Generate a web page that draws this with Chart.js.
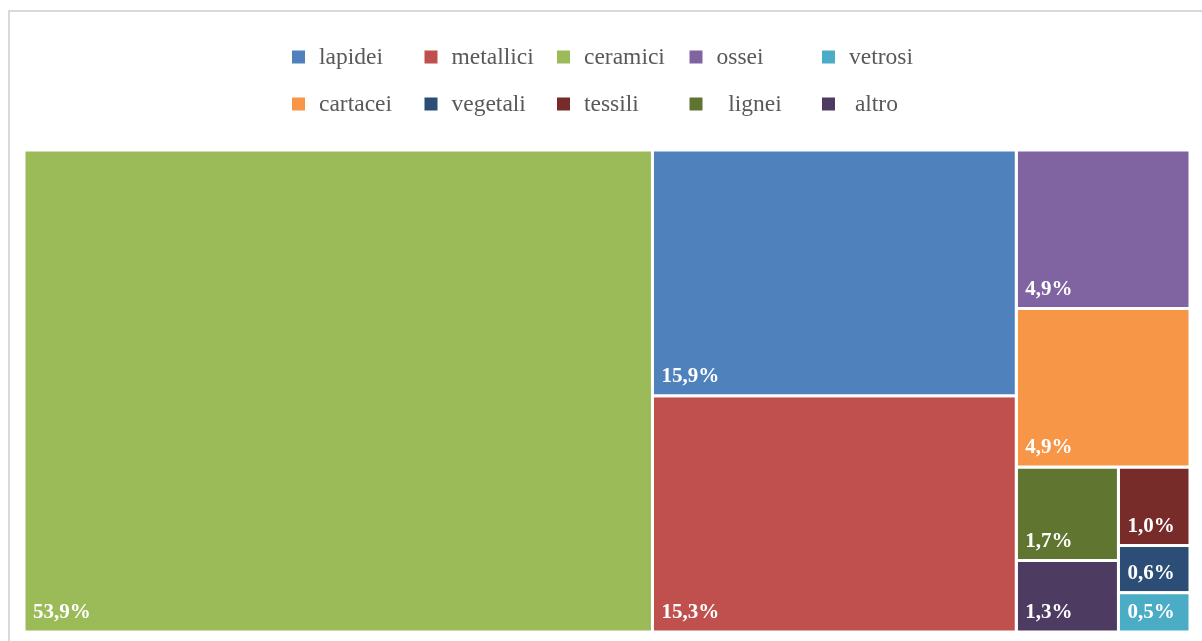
<!DOCTYPE html>
<html><head><meta charset="utf-8">
<script src="https://cdn.jsdelivr.net/npm/chart.js@4.4.1/dist/chart.umd.min.js"></script>
<style>html,body{margin:0;padding:0;background:#fff;overflow:hidden}#wrap{width:1202px;height:641px;position:relative}</style>
</head><body><div id="wrap"><canvas id="c" width="1202" height="641"></canvas></div>
<script>
// ---- data ----
const categories = ['lapidei','metallici','ceramici','ossei','vetrosi','cartacei','vegetali','tessili','lignei','altro'];
const legendLabels = ['lapidei','metallici','ceramici','ossei','vetrosi','cartacei','vegetali','tessili','  lignei',' altro'];
const shares = [15.9, 15.3, 53.9, 4.9, 0.5, 4.9, 0.6, 1.0, 1.7, 1.3];
const colors = ['#4F81BD','#C0504D','#9BBB59','#8064A2','#4BACC6','#F79646','#2C4D75','#772C2A','#5F7530','#4D3B62'];

// ---- plot extent (area units matching plot aspect) ----
const AREA_W = 1166, AREA_H = 482;

// squarified treemap layout computed from the shares
function squarify(values, W, H) {
  const total = values.reduce((a,b)=>a+b,0);
  const items = values.map((v,i)=>({i, a: v*W*H/total})).sort((p,q)=>q.a-p.a);
  const rects = new Array(values.length);
  let x=0, y=0, w=W, h=H, k=0;
  const worst = (row, s) => {
    const sum = row.reduce((t,r)=>t+r.a,0);
    let m = 0;
    row.forEach(r => { m = Math.max(m, s*s*r.a/(sum*sum), (sum*sum)/(s*s*r.a)); });
    return m;
  };
  while (k < items.length) {
    const s = Math.min(w,h);
    let row = [items[k++]];
    while (k < items.length && worst(row.concat([items[k]]), s) <= worst(row, s)) row.push(items[k++]);
    const sum = row.reduce((t,r)=>t+r.a,0);
    if (w >= h) {
      const cw = sum/h; let cy = y;
      row.forEach(r => { const rh = r.a/cw; rects[r.i] = {x0:x, x1:x+cw, y0:cy, y1:cy+rh}; cy += rh; });
      x += cw; w -= cw;
    } else {
      const rh = sum/w; let cx = x;
      row.forEach(r => { const rw = r.a/rh; rects[r.i] = {x0:cx, x1:cx+rw, y0:y, y1:y+rh}; cx += rw; });
      y += rh; h -= rh;
    }
  }
  return rects;
}
const rects = squarify(shares, AREA_W, AREA_H);

const datasets = categories.map((name, i) => {
  const r = rects[i];
  return {
    label: name,
    value: shares[i],
    rect: r,
    data: [{x:r.x0,y:r.y0},{x:r.x1,y:r.y0},{x:r.x1,y:r.y1},{x:r.x0,y:r.y1},{x:r.x0,y:r.y0}],
    backgroundColor: colors[i],
    borderColor: '#ffffff',
    borderWidth: 3,
    borderJoinStyle: 'miter',
    borderCapStyle: 'square',
    fill: 'shape',
    pointRadius: 0,
    pointHoverRadius: 0,
    tension: 0,
    clip: false
  };
});

const frame = {
  id: 'frame',
  beforeDraw(chart) {
    const ctx = chart.ctx;
    ctx.save();
    ctx.strokeStyle = '#d9d9d9';
    ctx.lineWidth = 2;
    ctx.strokeRect(9, 11, 1210, 660);
    ctx.restore();
  }
};

const valueLabels = {
  id: 'valueLabels',
  afterDatasetsDraw(chart) {
    const ctx = chart.ctx, xs = chart.scales.x, ys = chart.scales.y;
    ctx.save();
    ctx.fillStyle = '#ffffff';
    ctx.font = 'bold 21px "Liberation Serif", "Times New Roman", serif';
    ctx.textBaseline = 'alphabetic';
    ctx.textAlign = 'left';
    chart.data.datasets.forEach(ds => {
      const left = xs.getPixelForValue(ds.rect.x0);
      const bottom = ys.getPixelForValue(ds.rect.y1);
      ctx.fillText(ds.value.toFixed(1).replace('.', ',') + '%', left + 9, bottom - 14);
    });
    ctx.restore();
  }
};

const gridLegend = {
  id: 'gridLegend',
  afterDraw(chart) {
    const ctx = chart.ctx;
    const startX = 292, stepX = 132.5, rowY = [57, 104], perRow = 5;
    ctx.save();
    ctx.font = '23.5px "Liberation Serif", "Times New Roman", serif';
    ctx.textBaseline = 'middle';
    ctx.textAlign = 'left';
    chart.data.datasets.forEach((ds, i) => {
      const col = i % perRow, row = Math.floor(i / perRow);
      const bx = startX + col*stepX, cy = rowY[row];
      ctx.fillStyle = ds.backgroundColor;
      ctx.fillRect(bx, cy - 6.5, 13, 13);
      ctx.fillStyle = '#595959';
      ctx.fillText(legendLabels[i], bx + 27, cy + 1);
    });
    ctx.restore();
  }
};

new Chart(document.getElementById('c'), {
  type: 'line',
  data: { datasets },
  options: {
    responsive: false,
    animation: false,
    devicePixelRatio: 1,
    events: [],
    layout: { padding: { left: 24, right: 12, top: 150, bottom: 9 } },
    scales: {
      x: { type: 'linear', min: 0, max: AREA_W, display: false },
      y: { type: 'linear', min: 0, max: AREA_H, reverse: true, display: false }
    },
    plugins: { legend: { display: false }, tooltip: { enabled: false } }
  },
  plugins: [frame, valueLabels, gridLegend]
});
</script></body></html>
